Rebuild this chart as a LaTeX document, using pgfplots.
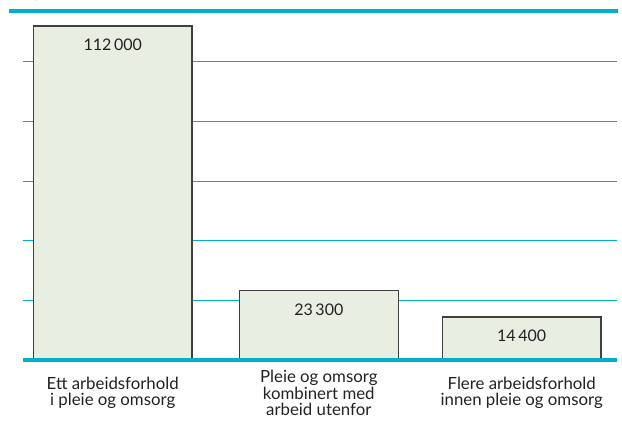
\documentclass[border=0pt]{standalone}
\usepackage{fontspec}
\setmainfont{Lato}
\usepackage{pgfplots}
\pgfplotsset{compat=1.18}
\definecolor{tealline}{RGB}{0,176,200}
\definecolor{barfill}{RGB}{233,238,227}
\definecolor{barline}{RGB}{64,64,64}
\definecolor{txt}{RGB}{34,34,34}
\begin{document}
\begin{tikzpicture}[x=1pt,y=1pt]
\path[use as bounding box] (-22.7,-75) rectangle (599.3,360);
\begin{axis}[
  at={(0,0)}, anchor=south west,
  scale only axis, width=594.3pt, height=349pt,
  xmin=22.7, xmax=617, ymin=0, ymax=117000,
  axis line style={draw=none},
  ytick={20000,40000,60000,80000,100000},
  yticklabels={},
  ymajorgrids, grid style={tealline, line width=1pt},
  major tick length=0pt,
  xtick={112.7,318.8,521.7},
  xticklabels={Ett arbeidsforhold\\i pleie og omsorg, Pleie og omsorg\\kombinert med\\arbeid utenfor, Flere arbeidsforhold\\innen pleie og omsorg},
  xticklabel style={anchor=center, align=center, yshift=-33pt, text=txt, font=\fontsize{16.8}{16.7}\selectfont},
  ybar, bar width=158.7, bar shift=0,
  point meta=explicit symbolic,
  nodes near coords,
  every node near coord/.append style={anchor=center, yshift=-19pt, text=txt, font=\fontsize{16}{17}\selectfont},
  clip=false,
]
\addplot[fill=barfill, draw=barline, line width=1.3pt] coordinates {(112.7,112000) [112\,000] (318.8,23300) [23\,300] (521.7,14400) [14\,400]};
\draw[tealline, line width=4pt] (rel axis cs:0,0) -- (rel axis cs:1,0);
\end{axis}
\draw[tealline, line width=4pt] (-13.7,349) -- (595.3,349);
\end{tikzpicture}
\end{document}
